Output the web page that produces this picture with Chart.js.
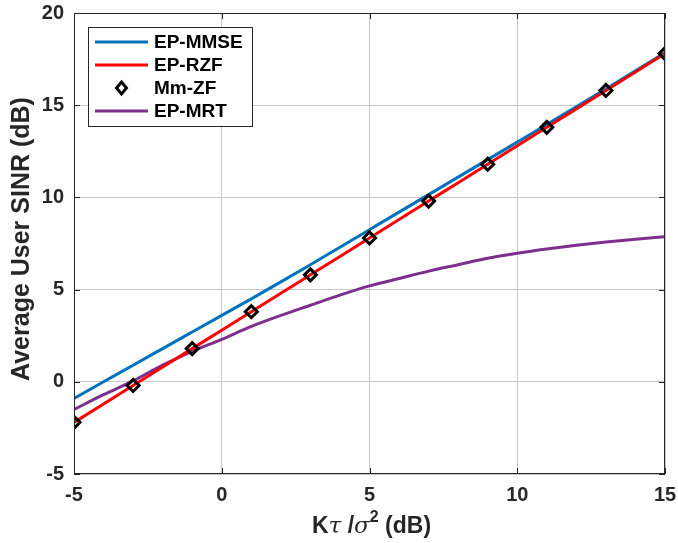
<!DOCTYPE html>
<html>
<head>
<meta charset="utf-8">
<script src="https://cdn.jsdelivr.net/npm/chart.js@4.4.1/dist/chart.umd.min.js"></script>
<style>
  html, body { margin: 0; padding: 0; background: #fff; }
  #wrap { width: 678px; height: 543px; }
</style>
</head>
<body>
<div id="wrap"><canvas id="chart" width="678" height="543"></canvas></div>
<script>
// --- data ---
const xFine = [-5, -4, -3, -2, -1, 0, 1, 2, 3, 4, 5, 6, 7, 8, 9, 10, 11, 12, 13, 14, 15];
const xMarks = [-5, -3, -1, 1, 3, 5, 7, 9, 11, 13, 15];

const mmse = [-0.9, 0.0, 0.9, 1.8, 2.7, 3.6, 4.5, 5.42, 6.35, 7.3, 8.25, 9.2, 10.15, 11.1, 12.05, 13.0, 13.95, 14.92, 15.88, 16.86, 17.85];
const rzf  = [-2.2, -1.2, -0.2, 0.8, 1.8, 2.8, 3.8, 4.8, 5.8, 6.8, 7.8, 8.8, 9.8, 10.8, 11.8, 12.8, 13.8, 14.8, 15.8, 16.8, 17.8];
const mmzf = [-2.2, -0.2, 1.8, 3.8, 5.8, 7.8, 9.8, 11.8, 13.8, 15.8, 17.8];
const mrt  = [-1.5, -0.7, 0.05, 0.9, 1.65, 2.3, 3.0, 3.6, 4.15, 4.7, 5.2, 5.6, 6.0, 6.35, 6.7, 6.97, 7.2, 7.4, 7.58, 7.73, 7.87];

const xTicks = [-5, 0, 5, 10, 15];
const yTicks = [-5, 0, 5, 10, 15, 20];

const pts = (xs, ys) => xs.map((x, i) => ({ x: x, y: ys[i] }));

const FONT = '"Liberation Sans", Arial, Helvetica, sans-serif';
const AXIS = '#262626';

// box, inward ticks, legend and axis titles, MATLAB style
const matlabAxes = {
    id: 'matlabAxes',
    afterDatasetsDraw(chart) {
        const { ctx, chartArea: a, scales } = chart;
        ctx.save();
        ctx.strokeStyle = AXIS;
        ctx.lineWidth = 1;
        ctx.strokeRect(a.left + 0.5, a.top + 0.5, a.right - a.left - 1, a.bottom - a.top - 1);

        // inward ticks on all four sides
        ctx.beginPath();
        xTicks.forEach(v => {
            const px = Math.round(scales.x.getPixelForValue(v)) + 0.5;
            ctx.moveTo(px, a.bottom); ctx.lineTo(px, a.bottom - 6);
            ctx.moveTo(px, a.top); ctx.lineTo(px, a.top + 6);
        });
        yTicks.forEach(v => {
            const py = Math.round(scales.y.getPixelForValue(v)) + 0.5;
            ctx.moveTo(a.left, py); ctx.lineTo(a.left + 6, py);
            ctx.moveTo(a.right, py); ctx.lineTo(a.right - 6, py);
        });
        ctx.stroke();

        // legend box
        const lx = 88, ly = 27, lw = 164, lh = 99;
        ctx.fillStyle = '#fff';
        ctx.fillRect(lx, ly, lw, lh);
        ctx.strokeRect(lx + 0.5, ly + 0.5, lw, lh);
        const rows = [42, 65, 88, 111];
        ctx.font = 'bold 19px ' + FONT;
        ctx.textBaseline = 'middle';
        ctx.textAlign = 'left';
        chart.data.datasets.forEach((ds, r) => {
            const y = rows[r];
            if (ds.showLine === false) {
                ctx.save();
                ctx.strokeStyle = '#000';
                ctx.lineWidth = 3;
                ctx.beginPath();
                ctx.moveTo(121.5 - 5, y); ctx.lineTo(121.5, y - 6);
                ctx.lineTo(121.5 + 5, y); ctx.lineTo(121.5, y + 6);
                ctx.closePath();
                ctx.stroke();
                ctx.restore();
            } else {
                ctx.save();
                ctx.strokeStyle = ds.borderColor;
                ctx.lineWidth = 3;
                ctx.beginPath();
                ctx.moveTo(95, y); ctx.lineTo(148, y);
                ctx.stroke();
                ctx.restore();
            }
            ctx.fillStyle = '#000';
            ctx.fillText(ds.label, 154, y + 1);
        });

        // axis titles
        ctx.fillStyle = AXIS;
        ctx.font = 'bold 25px ' + FONT;
        ctx.save();
        ctx.translate(22, 239);
        ctx.rotate(-Math.PI / 2);
        ctx.textAlign = 'center';
        ctx.fillText('Average User SINR (dB)', 0, 0);
        ctx.restore();

        // x title: K tau / sigma^2 (dB)
        const parts = [
            { t: 'K', f: 'bold 23px ' + FONT, dy: 0 },
            { t: '\u03C4', f: 'italic 23px "DejaVu Serif", serif', dy: 0 },
            { t: ' /', f: 'bold 23px ' + FONT, dy: 0 },
            { t: '\u03C3', f: 'italic 23px "DejaVu Serif", serif', dy: 0 },
            { t: '2', f: 'bold 16px ' + FONT, dy: -9 },
            { t: ' (dB)', f: 'bold 23px ' + FONT, dy: 0 }
        ];
        let total = 0;
        parts.forEach(p => { ctx.font = p.f; total += ctx.measureText(p.t).width; });
        let cx = (a.left + a.right) / 2 - total / 2 + 2;
        const ty = 527;
        ctx.textAlign = 'left';
        parts.forEach(p => {
            ctx.font = p.f;
            ctx.fillText(p.t, cx, ty + p.dy);
            cx += ctx.measureText(p.t).width;
        });
        ctx.restore();
    }
};

const ctx = document.getElementById('chart').getContext('2d');
new Chart(ctx, {
    type: 'line',
    data: {
        datasets: [
            { label: 'EP-MMSE', data: pts(xFine, mmse), borderColor: '#0072BD', borderWidth: 3, pointRadius: 0, order: 3 },
            { label: 'EP-RZF', data: pts(xFine, rzf), borderColor: '#FF0000', borderWidth: 3, pointRadius: 0, order: 2 },
            { label: 'Mm-ZF', data: pts(xMarks, mmzf), showLine: false, pointStyle: 'rectRot', pointRadius: 6,
              pointBorderWidth: 3, pointBorderColor: '#000', pointBackgroundColor: 'rgba(0,0,0,0)', order: 1 },
            { label: 'EP-MRT', data: pts(xFine, mrt), borderColor: '#7E2F8E', borderWidth: 3, pointRadius: 0, order: 4 }
        ]
    },
    options: {
        responsive: false,
        animation: false,
        devicePixelRatio: 1,
        layout: { padding: { top: 13, right: 13, left: 0, bottom: 0 } },
        plugins: { legend: { display: false }, tooltip: { enabled: false } },
        elements: { line: { tension: 0.3, cubicInterpolationMode: 'monotone' } },
        scales: {
            x: {
                type: 'linear', min: -5, max: 15,
                afterFit: s => { s.height = 69; s.paddingLeft = 0; s.paddingRight = 0; },
                afterBuildTicks: s => { s.ticks = xTicks.map(v => ({ value: v })); },
                grid: { color: '#c8c8c8', drawTicks: false },
                border: { display: false },
                ticks: { padding: 9, color: AXIS, font: { family: FONT, size: 20, weight: 'bold' } }
            },
            y: {
                type: 'linear', min: -5, max: 20,
                afterFit: s => { s.width = 74; s.paddingTop = 0; s.paddingBottom = 0; },
                afterBuildTicks: s => { s.ticks = yTicks.map(v => ({ value: v })); },
                grid: { color: '#c8c8c8', drawTicks: false },
                border: { display: false },
                ticks: { padding: 10, color: AXIS, font: { family: FONT, size: 20, weight: 'bold' } }
            }
        }
    },
    plugins: [matlabAxes]
});
</script>
</body>
</html>
